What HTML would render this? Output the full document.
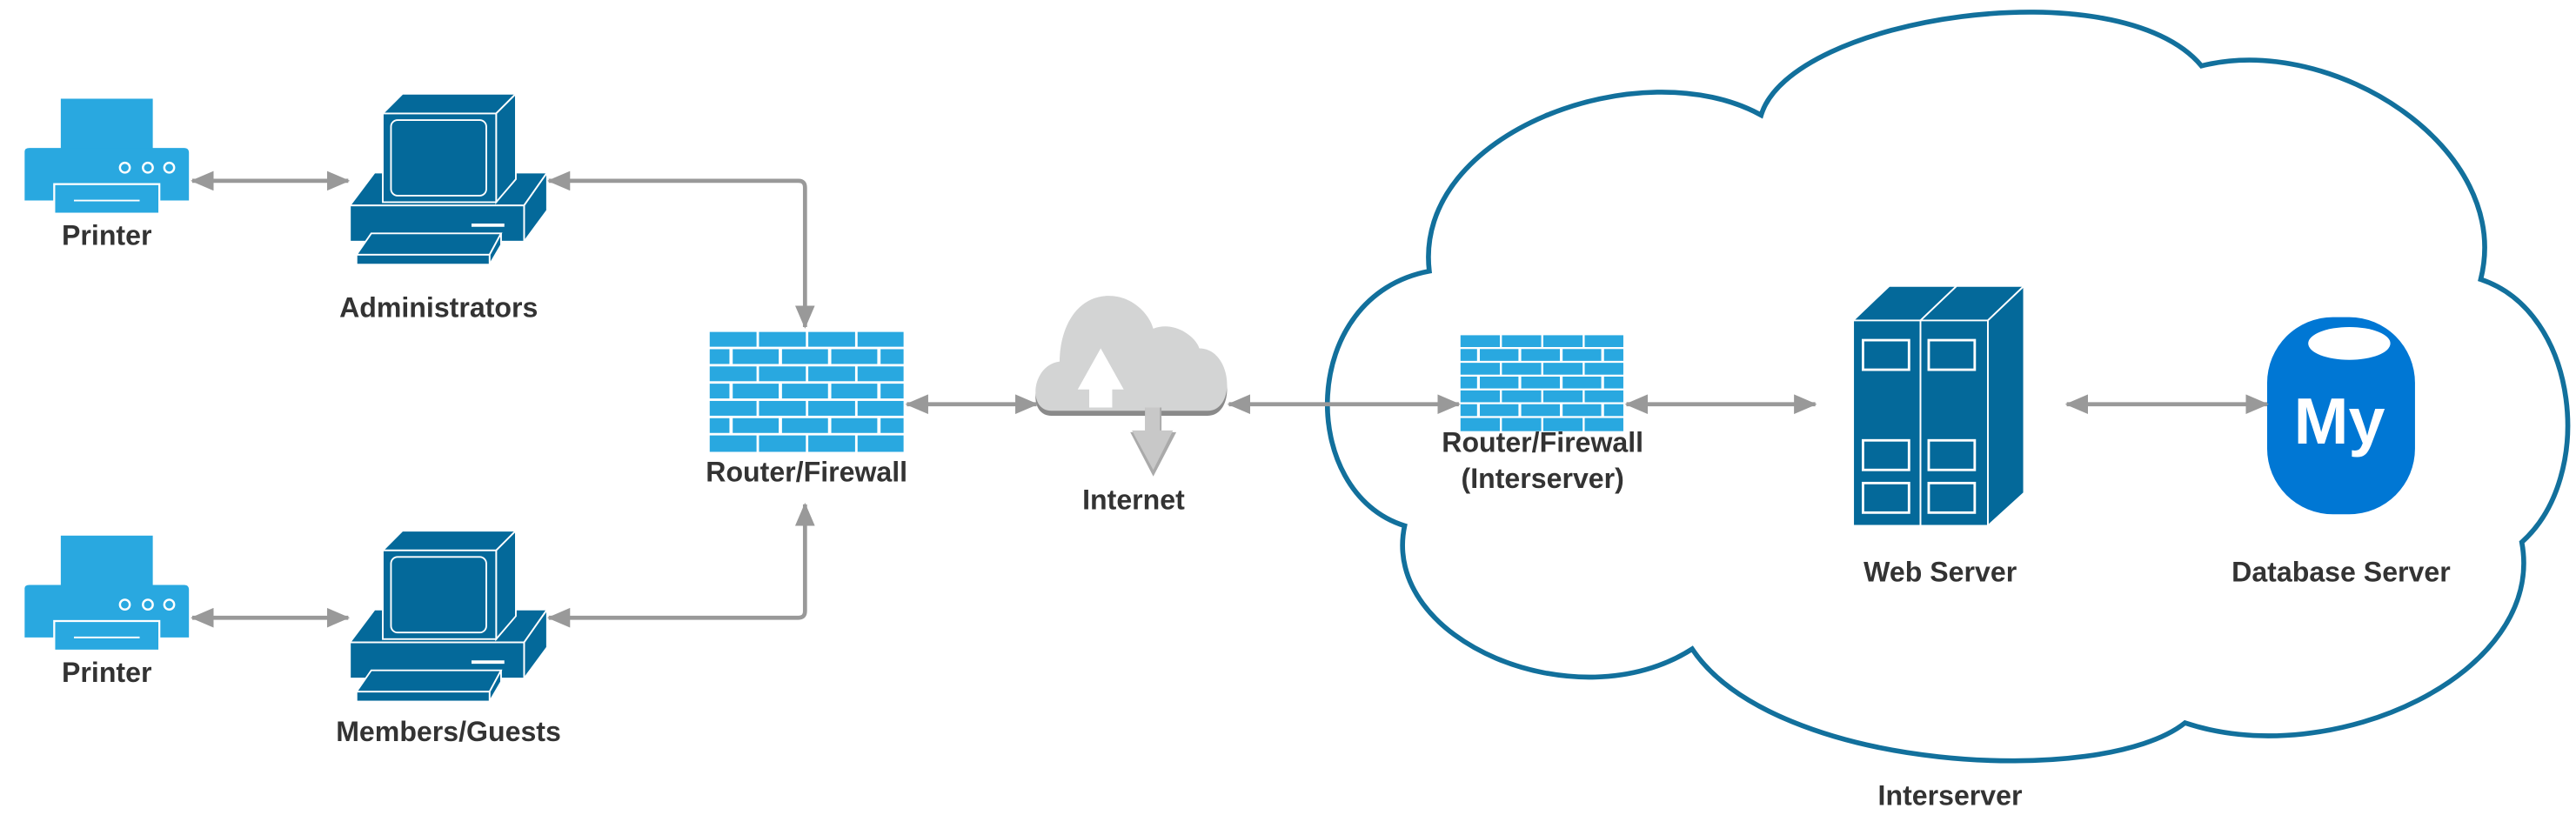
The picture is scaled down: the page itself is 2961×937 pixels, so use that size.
<!DOCTYPE html>
<html><head><meta charset="utf-8"><style>
html,body{margin:0;padding:0;background:#fff;}
svg{display:block;}
text{font-family:"Liberation Sans",sans-serif;font-weight:bold;fill:#333;font-size:17px;text-anchor:middle;}
</style></head><body>
<svg width="2961" height="937" viewBox="0 0 1568 496" xmlns="http://www.w3.org/2000/svg">
<defs>
<marker id="ah" markerWidth="14" markerHeight="12" refX="13" refY="6" orient="auto-start-reverse" markerUnits="userSpaceOnUse">
<path d="M0,0 L14,6 L0,12 Z" fill="#999"/></marker>
<g id="pr">
<rect x="22" y="0" width="56" height="32" fill="#29a8e0"/>
<path d="M0,32 Q0,30 3,30 L97,30 Q100,30 100,33 L100,62 L0,62 Z" fill="#29a8e0"/>
<rect x="18" y="52" width="64" height="18" fill="#29a8e0" stroke="#fff" stroke-width="1.2"/>
<line x1="30" y1="62" x2="70" y2="62" stroke="#fff" stroke-width="1"/>
<circle cx="61" cy="42" r="3" fill="#29a8e0" stroke="#fff" stroke-width="1.3"/>
<circle cx="75" cy="42" r="3" fill="#29a8e0" stroke="#fff" stroke-width="1.3"/>
<circle cx="88" cy="42" r="3" fill="#29a8e0" stroke="#fff" stroke-width="1.3"/>
</g>
<g id="pc" fill="#04699a" stroke="#fff" stroke-width="1">
<polygon points="0,68 15,48 120,48 106,68"/>
<polygon points="106,68 120,48 120,71 106,90"/>
<rect x="0" y="68" width="106" height="22"/>
<line x1="74" y1="80" x2="94" y2="80" stroke-width="2"/>
<polygon points="20,12 32,0 101,0 89,12"/>
<polygon points="89,12 101,0 101,52 89,66"/>
<rect x="20" y="12" width="69" height="54"/>
<rect x="25" y="16" width="58" height="46" rx="4"/>
<polygon points="4,98 13,85 92,85 85,98"/>
<polygon points="85,98 92,85 92,92 85,104"/>
<rect x="4" y="98" width="81" height="6"/>
</g>
<g id="fw" fill="#29a8e0">
<rect x="0" y="0" width="28.5" height="9"/><rect x="30" y="0" width="28.5" height="9"/><rect x="60" y="0" width="28.5" height="9"/><rect x="90" y="0" width="28" height="9"/>
<rect x="0" y="10.5" width="12" height="9"/><rect x="14" y="10.5" width="28" height="9"/><rect x="44" y="10.5" width="28" height="9"/><rect x="74" y="10.5" width="28" height="9"/><rect x="104" y="10.5" width="14" height="9"/>
<rect x="0" y="21" width="28.5" height="9"/><rect x="30" y="21" width="28.5" height="9"/><rect x="60" y="21" width="28.5" height="9"/><rect x="90" y="21" width="28" height="9"/>
<rect x="0" y="31.5" width="12" height="9"/><rect x="14" y="31.5" width="28" height="9"/><rect x="44" y="31.5" width="28" height="9"/><rect x="74" y="31.5" width="28" height="9"/><rect x="104" y="31.5" width="14" height="9"/>
<rect x="0" y="42" width="28.5" height="9"/><rect x="30" y="42" width="28.5" height="9"/><rect x="60" y="42" width="28.5" height="9"/><rect x="90" y="42" width="28" height="9"/>
<rect x="0" y="52.5" width="12" height="9"/><rect x="14" y="52.5" width="28" height="9"/><rect x="44" y="52.5" width="28" height="9"/><rect x="74" y="52.5" width="28" height="9"/><rect x="104" y="52.5" width="14" height="9"/>
<rect x="0" y="63" width="28.5" height="10"/><rect x="30" y="63" width="28.5" height="10"/><rect x="60" y="63" width="28.5" height="10"/><rect x="90" y="63" width="28" height="10"/>
</g>
</defs>

<path d="M1072,70 C1090,10 1290,-20 1340,40 C1420,20 1530,90 1510,170 C1570,190 1580,290 1535,330 C1550,410 1420,470 1330,440 C1280,480 1080,470 1030,395 C960,440 840,390 855,320 C790,300 790,180 870,165 C860,80 1000,30 1072,70 Z" fill="#fff" stroke="#12709c" stroke-width="3"/>

<use href="#pr" x="15" y="60"/>
<use href="#pr" x="15" y="326"/>
<use href="#pc" x="213" y="57"/>
<use href="#pc" x="213" y="323"/>
<use href="#fw" x="432" y="202"/>
<g transform="translate(889,204) scale(0.84,0.8)"><use href="#fw"/></g>

<g>
<path d="M640,250 C625,250 628,222 645,220 C645,200 655,180 675,180 C690,180 700,192 702,200 C715,195 728,205 730,212 C750,212 753,250 735,250 Z" fill="#8a8a8a" transform="translate(0,3)"/>
<path d="M640,250 C625,250 628,222 645,220 C645,200 655,180 675,180 C690,180 700,192 702,200 C715,195 728,205 730,212 C750,212 753,250 735,250 Z" fill="#d3d4d4"/>
<polygon points="663,248 663,237 656,237 670,212 684,237 677,237 677,248" fill="#fff"/>
<polygon points="697,248 697,263 688,263 702,290 716,263 707,263 707,248" fill="#aaa"/>
<polygon points="697,248 697,262 689,262 702,286 714,262 706,262 706,248" fill="#c8c8c8"/>
</g>

<g fill="#04699a" stroke="#fff" stroke-width="1">
<polygon points="1128,195 1150,174 1191,174 1169,195"/>
<polygon points="1169,195 1191,174 1232,174 1210,195"/>
<polygon points="1210,195 1232,174 1232,300 1210,320"/>
<rect x="1128" y="195" width="41" height="125"/>
<rect x="1169" y="195" width="41" height="125"/>
<g stroke-width="1.5">
<rect x="1134" y="207" width="28" height="18"/><rect x="1174" y="207" width="28" height="18"/>
<rect x="1134" y="268" width="28" height="18"/><rect x="1174" y="268" width="28" height="18"/>
<rect x="1134" y="294" width="28" height="18"/><rect x="1174" y="294" width="28" height="18"/>
</g></g>

<rect x="1380" y="193" width="90" height="120" rx="40" fill="#0077d4"/>
<ellipse cx="1430" cy="209" rx="25" ry="10" fill="#fff"/>
<text x="1424" y="270" style="fill:#fff;font-size:40px;font-weight:bold">My</text>

<g stroke="#999" stroke-width="2.5" fill="none" marker-start="url(#ah)" marker-end="url(#ah)">
<line x1="117" y1="110" x2="212" y2="110"/>
<line x1="117" y1="376" x2="212" y2="376"/>
<path d="M334,110 L486,110 Q490,110 490,114 L490,199"/>
<path d="M334,376 L486,376 Q490,376 490,372 L490,307"/>
<line x1="552" y1="246" x2="631" y2="246"/>
<line x1="748" y1="246" x2="888" y2="246"/>
<line x1="990" y1="246" x2="1105" y2="246"/>
<line x1="1258" y1="246" x2="1380" y2="246"/>
</g>

<text x="65" y="149">Printer</text>
<text x="65" y="415">Printer</text>
<text x="267" y="193">Administrators</text>
<text x="273" y="451">Members/Guests</text>
<text x="491" y="293">Router/Firewall</text>
<text x="690" y="310">Internet</text>
<text x="939" y="275">Router/Firewall</text>
<text x="939" y="297">(Interserver)</text>
<text x="1181" y="354">Web Server</text>
<text x="1425" y="354">Database Server</text>
<text x="1187" y="490">Interserver</text>
</svg>
</body></html>
